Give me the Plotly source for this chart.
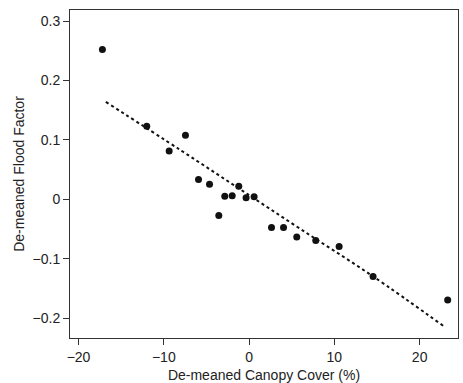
import plotly.graph_objects as go

canopy = [-17.2, -12.0, -9.37, -7.46, -5.93, -4.64, -3.55, -2.85, -1.98, -1.21, -0.35, 0.59,
          2.63, 4.04, 5.59, 7.82, 10.56, 14.54, 23.29]
flood = [0.252, 0.123, 0.0815, 0.108, 0.0335, 0.0255, -0.027, 0.0055, 0.006, 0.022, 0.003, 0.0045,
         -0.047, -0.047, -0.063, -0.069, -0.079, -0.1295, -0.169]

fit_x = [-16.8, -8.0, -1.2, 6.0, 14.5, 22.94]
fit_y = [0.164, 0.0825, 0.0185, -0.0495, -0.129, -0.2143]

x_ticks = [-20, -10, 0, 10, 20]
x_labels = ["\u221220", "\u221210", "0", "10", "20"]
y_ticks = [-0.2, -0.1, 0, 0.1, 0.2, 0.3]
y_labels = ["\u22120.2", "\u22120.1", "0", "0.1", "0.2", "0.3"]

fig = go.Figure()
fig.add_trace(go.Scatter(x=fit_x, y=fit_y, mode="lines",
                         line=dict(color="#111111", width=2, dash="3px,3px", shape="spline"),
                         hoverinfo="skip"))
fig.add_trace(go.Scatter(x=canopy, y=flood, mode="markers",
                         marker=dict(color="#111111", size=7)))

axis_common = dict(showline=True, linecolor="#333333", linewidth=1, mirror=True,
                   ticks="outside", ticklen=6, tickcolor="#333333", showgrid=False,
                   zeroline=False, automargin=False,
                   tickfont=dict(family="Liberation Sans, Arial", size=14, color="#222222"))

fig.update_layout(
    width=463, height=383,
    margin=dict(l=70, r=5, t=10, b=45),
    plot_bgcolor="white", paper_bgcolor="white",
    showlegend=False,
    font=dict(family="Liberation Sans, Arial", size=14, color="#222222"),
    xaxis=dict(range=[-21.0, 24.5], tickvals=x_ticks, ticktext=x_labels,
               title=dict(text="De-meaned Canopy Cover (%)", standoff=8, font=dict(size=14)),
               **axis_common),
    yaxis=dict(range=[-0.233, 0.3185], tickvals=y_ticks, ticktext=y_labels,
               title=dict(text="De-meaned Flood Factor", standoff=4, font=dict(size=14)),
               **axis_common),
)

fig.write_html("out.html")
